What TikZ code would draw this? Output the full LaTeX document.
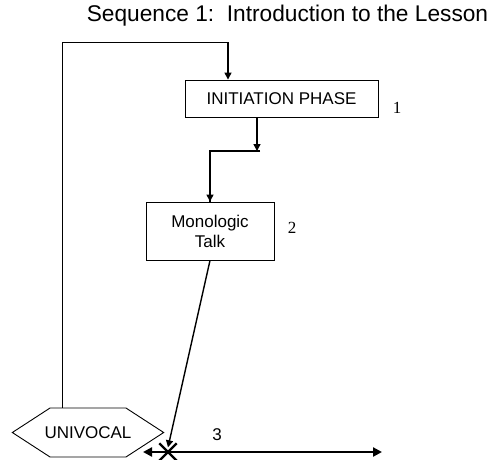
\documentclass[tikz,border=0pt]{standalone}
\usepackage{fontspec}
\setmainfont{Liberation Sans}
\newfontfamily\numfont{Liberation Serif}
\usetikzlibrary{arrows.meta,shapes.symbols,shapes.misc,calc}
\tikzset{
	phasebox/.style={draw,rectangle,line width=0.9pt,font=\fontsize{17}{20}\selectfont,align=center},
	numlabel/.style={font=\numfont\fontsize{17}{20}\selectfont},
	arr/.style={line width=1.4pt,-{Triangle[length=7pt,width=7pt]}},
}
\begin{document}
\begin{tikzpicture}[x=1pt,y=-1pt]
		\useasboundingbox (0,0) rectangle (490,459);
		
		\node[font=\fontsize{22.7}{26}\selectfont] (title) at (287.5,16) {Sequence 1:\ \ Introduction to the Lesson};
		
		\node[phasebox,minimum width=193pt,minimum height=37pt] (init) at (281.5,98.5) {INITIATION PHASE};
		\node[numlabel] (lab1) at (397,108) {1};
		
		\node[phasebox,minimum width=128pt,minimum height=58pt] (mono) at (210,231) {Monologic\\Talk};
		\node[numlabel] (lab2) at (292,228) {2};
		
		\node[signal,signal to=west and east,signal pointer angle=66,draw,line width=0.9pt,
			minimum height=49pt,inner xsep=-5.5pt,inner ysep=0pt,
			font=\fontsize{17}{20}\selectfont] (univocal) at (88,432.5) {UNIVOCAL};
		\node[cross out,draw,line width=2.4pt,minimum size=15pt,inner sep=0pt] (cross) at (168,452) {};
		\node[font=\fontsize{17}{20}\selectfont] (lab3) at (217,435) {3};
		
		% feedback loop
		\coordinate (fbl) at (62,42);
		\coordinate (fbr) at (228,42);
		\draw[line width=1pt] (univocal.north -| fbl) -- (fbl) -- (fbr);
		\draw[arr] (fbr) -- (init.north -| fbr);
		
		% step down
		\coordinate (step) at (257,151);
		\draw[arr] (init.south -| step) -- (step);
		\draw[line width=1.4pt] ($(step)+(3,0)$) -| (mono.north);
		\draw[arr] (step -| mono.north) -- (mono.north);
		
		\draw[arr] (mono.south) -- ([yshift=-4pt]cross.north);
		
		% range
		\coordinate (dl) at (143,452);
		\coordinate (dr) at (382,452);
		\draw[line width=2.5pt,{Triangle[length=9pt,width=9pt]}-{Triangle[length=9pt,width=9pt]}] (dl) -- (dr);
	\end{tikzpicture}
\end{document}
